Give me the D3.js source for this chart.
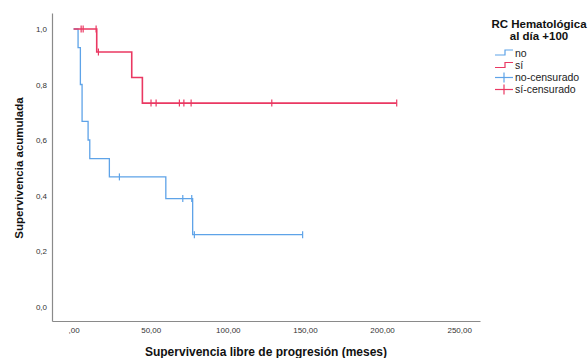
<!DOCTYPE html>
<html>
<head>
<meta charset="utf-8">
<script src="https://cdn.jsdelivr.net/npm/d3@7"></script>
<style>
  html, body { margin: 0; padding: 0; background: #fff; }
  svg { display: block; font-family: "Liberation Sans", Arial, sans-serif; }
</style>
</head>
<body>
<svg id="chart" width="588" height="358"></svg>
<script>
// Kaplan–Meier curves: progression-free survival by haematological CR at day +100
const groups = ["no", "sí"];

// step points (time in months, cumulative survival) for each group
const noTimes = [0, 2.9, 4.4, 5.5, 9.4, 10.5, 23.2, 59.8, 77.2];
const noSurv  = [1.0, 0.933, 0.800, 0.667, 0.600, 0.533, 0.467, 0.389, 0.259];
const noEnd   = 148.5;
const noCensored = [29.7, 70.8, 76.6, 78.3, 148.5];

const siTimes = [0, 15.0, 37.7, 44.6];
const siSurv  = [1.0, 0.917, 0.825, 0.733];
const siEnd   = 209.5;
const siCensored = [4.9, 6.2, 14.6, 16.1, 50.2, 53.5, 68.6, 71.5, 76.2, 128.5, 209.5];

const xTicks = [0, 50, 100, 150, 200, 250];
const xTickLabels = [",00", "50,00", "100,00", "150,00", "200,00", "250,00"];
const yTicks = [0, 0.2, 0.4, 0.6, 0.8, 1.0];
const yTickLabels = ["0,0", "0,2", "0,4", "0,6", "0,8", "1,0"];

const legendTitle = ["RC Hematológica", "al día +100"];
const legendLabels = ["no", "sí", "no-censurado", "sí-censurado"];

const colors = { "no": "#5ea3e8", "sí": "#ea3862" };

const svg = d3.select("#chart");

const x = d3.scaleLinear().domain([-14, 263.5]).range([52, 480]);
const y = d3.scaleLinear().domain([-0.0522, 1.0576]).range([321, 13]);

// axes
const yAxis = d3.axisLeft(y).tickValues(yTicks).tickSize(0).tickPadding(5)
  .tickFormat((d, i) => yTickLabels[i]);
const xAxis = d3.axisBottom(x).tickValues(xTicks).tickSize(0).tickPadding(6.5)
  .tickFormat((d, i) => xTickLabels[i]);

function styleAxis(g) {
  g.select(".domain").attr("stroke", "#8a8a8a").attr("stroke-width", 1.2);
  g.selectAll("text").attr("fill", "#333").style("font-size", "8px")
    .style("font-family", "'Liberation Sans', Arial, sans-serif");
}

svg.append("g").attr("transform", "translate(52,0)").call(yAxis).call(styleAxis);
svg.append("g").attr("transform", "translate(0,321)").call(xAxis).call(styleAxis);

// axis titles
svg.append("text")
  .attr("transform", "translate(23,168) rotate(-90)")
  .attr("text-anchor", "middle")
  .style("font-size", "11.5px").style("font-weight", "bold").attr("fill", "#111")
  .text("Supervivencia acumulada");

svg.append("text")
  .attr("x", 266).attr("y", 356)
  .attr("text-anchor", "middle")
  .style("font-size", "12px").style("font-weight", "bold").attr("fill", "#111")
  .text("Supervivencia libre de progresión (meses)");

// survival curves
const series = [
  { key: "no", times: noTimes, surv: noSurv, end: noEnd, cens: noCensored },
  { key: "sí", times: siTimes, surv: siSurv, end: siEnd, cens: siCensored }
];

const line = d3.line().x(d => x(d[0])).y(d => y(d[1])).curve(d3.curveStepAfter);

function survivalAt(s, t) {
  let v = s.surv[0];
  for (let i = 0; i < s.times.length; i++) if (s.times[i] <= t) v = s.surv[i];
  return v;
}

series.forEach(s => {
  const pts = s.times.map((t, i) => [t, s.surv[i]]);
  pts.push([s.end, s.surv[s.surv.length - 1]]);
  svg.append("path")
    .datum(pts)
    .attr("fill", "none")
    .attr("stroke", colors[s.key])
    .attr("stroke-width", s.key === "sí" ? 1.6 : 1.3)
    .attr("d", line);

  svg.append("g").selectAll("line")
    .data(s.cens)
    .join("line")
    .attr("x1", d => x(d)).attr("x2", d => x(d))
    .attr("y1", d => y(survivalAt(s, d)) - 3.5)
    .attr("y2", d => y(survivalAt(s, d)) + 3.5)
    .attr("stroke", colors[s.key])
    .attr("stroke-width", 1.2);
});

// legend
const lg = svg.append("g");
lg.selectAll("text.title")
  .data(legendTitle)
  .join("text")
  .attr("class", "title")
  .attr("x", 539).attr("y", (d, i) => 28 + i * 12)
  .attr("text-anchor", "middle")
  .style("font-size", "11.5px").style("font-weight", "bold").attr("fill", "#111")
  .text(d => d);

const itemY = [53, 65.5, 77.5, 89.5];
legendLabels.forEach((lab, i) => {
  const c = colors[groups[i % 2]];
  const yy = itemY[i];
  if (i < 2) {
    lg.append("path")
      .attr("d", `M495,${yy + 2}H505V${yy - 3}H513`)
      .attr("fill", "none").attr("stroke", c).attr("stroke-width", 1.2);
  } else {
    lg.append("line").attr("x1", 495).attr("x2", 513).attr("y1", yy).attr("y2", yy)
      .attr("stroke", c).attr("stroke-width", 1.2);
    lg.append("line").attr("x1", 504).attr("x2", 504).attr("y1", yy - 5).attr("y2", yy + 5)
      .attr("stroke", c).attr("stroke-width", 1.2);
  }
  lg.append("text")
    .attr("x", 515).attr("y", yy + 3.5)
    .style("font-size", "10.5px").attr("fill", "#222")
    .text(lab);
});
</script>
</body>
</html>
